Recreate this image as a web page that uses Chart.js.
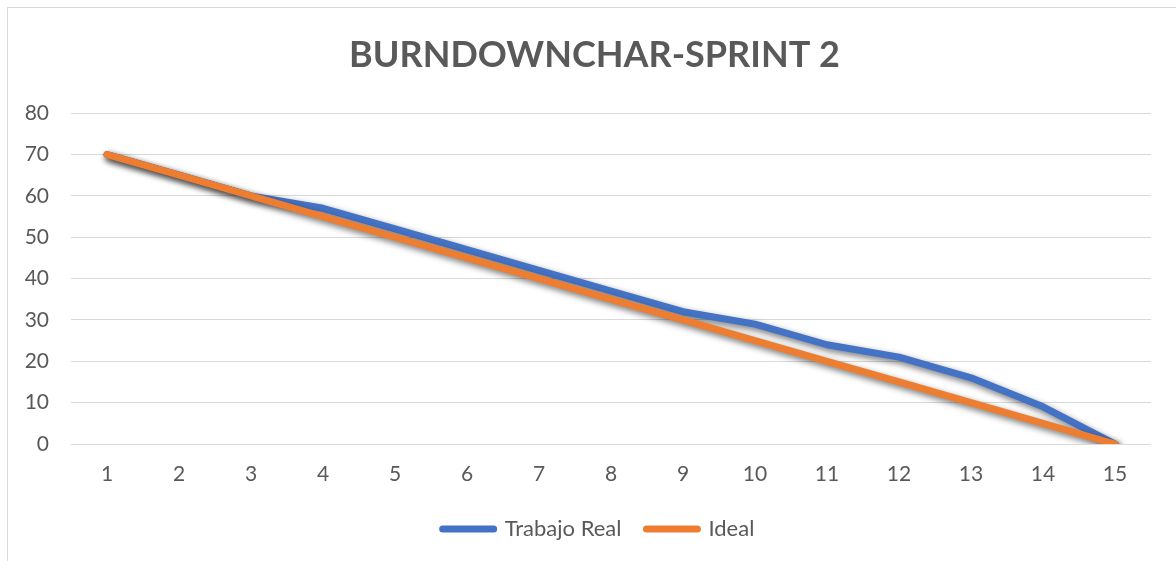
<!DOCTYPE html>
<html>
<head>
<meta charset="utf-8">
<script src="https://cdn.jsdelivr.net/npm/chart.js"></script>
<style>
  html, body { margin: 0; padding: 0; background: #ffffff; }
  #wrap { position: relative; width: 1176px; height: 561px; overflow: hidden; }
  #frame { position: absolute; left: 7px; top: 7px; width: 1300px; height: 700px; border: 1px solid #d9d9d9; box-sizing: border-box; }
  #c { position: absolute; left: 0; top: 0; }
</style>
</head>
<body>
<div id="wrap">
  <div id="frame"></div>
  <canvas id="c" width="1176" height="561"></canvas>
</div>
<script>
const chartTitle = "BURNDOWNCHAR-SPRINT 2";
const days = ["1","2","3","4","5","6","7","8","9","10","11","12","13","14","15"];
const trabajoReal = [70, 65, 60, 57, 52, 47, 42, 37, 32, 29, 24, 21, 16, 9, 0];
const ideal = [70, 65, 60, 55, 50, 45, 40, 35, 30, 25, 20, 15, 10, 5, 0];
const yTicks = [0, 10, 20, 30, 40, 50, 60, 70, 80];

const FONT = "Lato, 'Open Sans', sans-serif";
const TXT = "#595959";

const shadowPlugin = {
  id: 'lineShadow',
  afterLayout(chart) {
    // centre title and legend on the whole frame rather than the plot
    if (chart.titleBlock) { chart.titleBlock.left += 19; chart.titleBlock.right += 19; }
    if (chart.legend) { chart.legend.left += 23; chart.legend.right += 23; }
  },
  beforeDatasetDraw(chart) {
    const ctx = chart.ctx;
    ctx.save();
    ctx.shadowColor = 'rgba(0,0,0,0.55)';
    ctx.shadowBlur = 6;
    ctx.shadowOffsetX = 2;
    ctx.shadowOffsetY = 3;
  },
  afterDatasetDraw(chart) {
    chart.ctx.restore();
  }
};

new Chart(document.getElementById('c'), {
  type: 'line',
  data: {
    labels: days,
    datasets: [
      {
        label: 'Trabajo Real',
        data: trabajoReal,
        borderColor: '#4472C4',
        backgroundColor: '#4472C4',
        borderWidth: 7,
        borderCapStyle: 'round',
        borderJoinStyle: 'round',
        pointRadius: 0,
        pointHoverRadius: 0,
        tension: 0,
        order: 1
      },
      {
        label: 'Ideal',
        data: ideal,
        borderColor: '#ED7D31',
        backgroundColor: '#ED7D31',
        borderWidth: 7,
        borderCapStyle: 'round',
        borderJoinStyle: 'round',
        pointRadius: 0,
        pointHoverRadius: 0,
        tension: 0,
        order: 0
      }
    ]
  },
  options: {
    responsive: false,
    animation: false,
    devicePixelRatio: 1,
    layout: { padding: { left: 0, right: 25, top: 1, bottom: 11 } },
    plugins: {
      title: {
        display: true,
        text: chartTitle,
        color: TXT,
        font: { family: FONT, size: 36, weight: 'bold', lineHeight: 1.2 },
        padding: { top: 33, bottom: 36 }
      },
      legend: {
        position: 'bottom',
        labels: {
          usePointStyle: true,
          pointStyleWidth: 51,
          color: TXT,
          font: { family: FONT, size: 22 },
          padding: 25,
          generateLabels(chart) {
            return chart.data.datasets.map((ds, i) => ({
              text: ds.label,
              fillStyle: ds.borderColor,
              strokeStyle: ds.borderColor,
              fontColor: TXT,
              lineWidth: 7,
              lineCap: 'round',
              pointStyle: 'line',
              hidden: false,
              datasetIndex: i
            }));
          }
        }
      },
      tooltip: { enabled: false }
    },
    scales: {
      x: {
        offset: true,
        grid: { display: false, drawTicks: false },
        border: { display: false },
        ticks: { color: TXT, font: { family: FONT, size: 21 }, padding: 18, maxRotation: 0 },
        afterFit(s) { s.height = 49; }
      },
      y: {
        min: 0,
        max: 80,
        afterBuildTicks(s) { s.ticks = yTicks.map(v => ({ value: v })); },
        grid: { color: '#d9d9d9', lineWidth: 1, drawTicks: false },
        border: { display: false },
        ticks: { color: TXT, font: { family: FONT, size: 21 }, padding: 22 },
        afterFit(s) { s.width = 71; }
      }
    }
  },
  plugins: [shadowPlugin]
});
</script>
</body>
</html>
